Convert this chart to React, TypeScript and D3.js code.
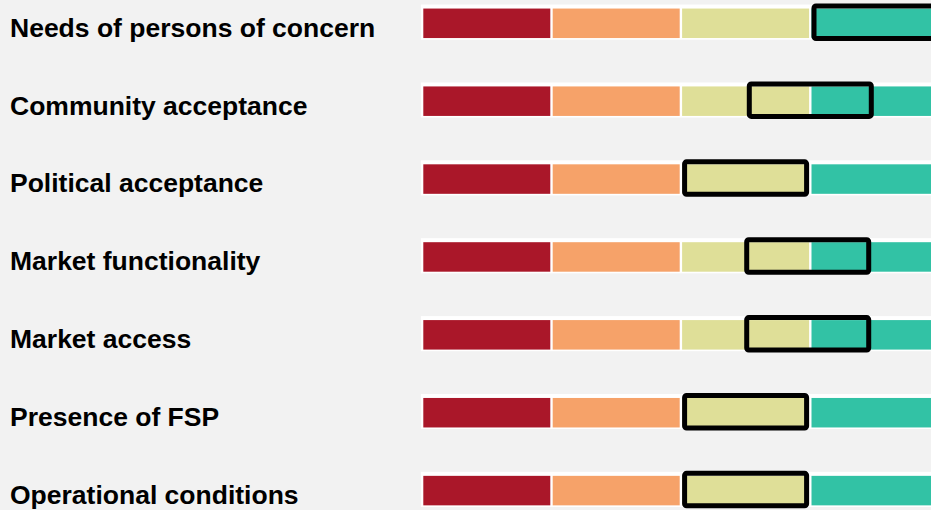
import React from "react";
import * as d3 from "d3";

const categories = [
  "Needs of persons of concern",
  "Community acceptance",
  "Political acceptance",
  "Market functionality",
  "Market access",
  "Presence of FSP",
  "Operational conditions",
];
// position of the assessment box on the 1..4 scale (segment centres)
const scores = [4, 3.5, 3, 3.48, 3.48, 3, 3];
const levels = [1, 2, 3, 4];
const levelColors = ["#aa1729", "#f6a269", "#dfdf98", "#32c2a5"];

const W = 931;
const H = 510;

export default function App() {
  const x = d3.scaleLinear().domain([0.5, 4.5]).range([422.1, 939.7]);
  // label baselines
  const y = d3.scalePoint<string>().domain(categories).range([36.7, 504]);
  const barH = 29.5;
  const gap = 1.2;
  const stroke = 5;

  return (
    <svg
      width={W}
      height={H}
      style={{ position: "absolute", left: 0, top: 0, display: "block" }}
    >
      <rect x={0} y={0} width={W} height={H} fill="#f2f2f2" />
      {categories.map((c, i) => {
        const base = y(c)!;
        const cy = base - 13.4;
        const top = cy - barH / 2;
        const v = scores[i];
        const segW = x(1.5) - x(0.5) - 2 * gap;
        const boxX = x(v) - segW / 2 + stroke / 2;
        const boxW = segW - stroke;
        return (
          <g key={c}>
            <text
              x={10}
              y={base}
              fontFamily="'Liberation Sans', Arial, Helvetica, sans-serif"
              fontWeight="bold"
              fontSize={26.5}
              fill="#000"
            >
              {c}
            </text>
            <rect
              x={x(0.5) - 1.2}
              y={top - 4}
              width={W}
              height={barH + 5.6}
              fill="#ffffff"
            />
            {levels.map((l, j) => (
              <rect
                key={l}
                x={x(l - 0.5) + gap}
                y={top}
                width={x(l + 0.5) - x(l - 0.5) - 2 * gap}
                height={barH}
                fill={levelColors[j]}
              />
            ))}
            <rect
              x={boxX}
              y={top - 5 + stroke / 2}
              width={boxW}
              height={barH + 8 - stroke}
              rx={2}
              ry={2}
              fill="none"
              stroke="#000"
              strokeWidth={stroke}
            />
          </g>
        );
      })}
    </svg>
  );
}
